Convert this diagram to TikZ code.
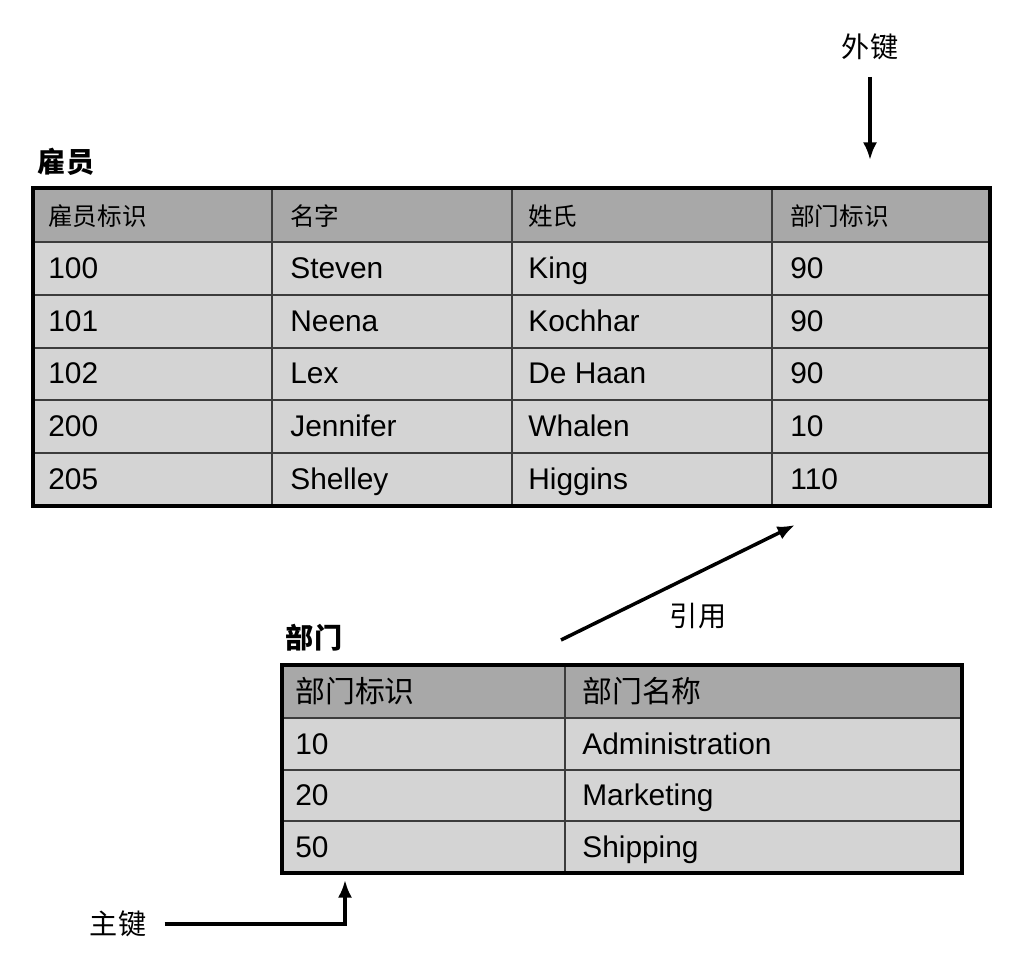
\documentclass[tikz,border=0pt]{standalone}
\usepackage{fontspec}
\setmainfont{Liberation Sans}
\newfontfamily\cjk{Noto Sans CJK SC}
\usetikzlibrary{arrows.meta}
\definecolor{hdrgray}{RGB}{168,168,168}
\definecolor{rowgray}{RGB}{212,212,212}
\definecolor{gridgray}{RGB}{60,60,60}

\begin{document}
\begin{tikzpicture}[x=0.02cm,y=-0.02cm,>={Latex[length=10pt,width=8pt]},
  cell/.style={anchor=west,inner sep=0pt,text height=12pt,text depth=0pt,font=\fontsize{17}{20}\selectfont},
  hcell/.style={cell,font=\cjk\fontsize{14}{17}\selectfont},
  dhcell/.style={cell,font=\cjk\fontsize{17}{20}\selectfont},
  title/.style={font=\cjk\bfseries\fontsize{16}{19}\selectfont},
  lbl/.style={font=\cjk\fontsize{16}{19}\selectfont},
  grid/.style={draw=gridgray,line width=1.1pt},
  frame/.style={draw=black,line width=2.2pt},
  arr/.style={->,line width=2pt}]
\useasboundingbox (0,0) rectangle (1013,962);

% employees table
\node[title] (emp) at (66,162) {雇员};
\fill[hdrgray] (33,188) rectangle (990,242);
\fill[rowgray] (33,242) rectangle (990,506);
\foreach \y in {242,294.8,347.6,400.4,453.2} \draw[grid] (33,\y) -- (990,\y);
\foreach \x in {272,512,772} \draw[grid] (\x,188) -- (\x,506);
\draw[frame] (33,188) rectangle (990,506);
\node[hcell] (eh1) at (48,215) {雇员标识};
\node[hcell] (eh2) at (290,215) {名字};
\node[hcell] (eh3) at (528,215) {姓氏};
\node[hcell] (eh4) at (790,215) {部门标识};
\foreach \eid/\fname/\lname/\did [count=\i] in {100/Steven/King/90,101/Neena/Kochhar/90,
    102/Lex/De Haan/90,200/Jennifer/Whalen/10,205/Shelley/Higgins/110} {
  \pgfmathsetmacro\yy{215+52.8*\i}
  \node[cell] (e\i-1) at (48,\yy) {\eid};
  \node[cell] (e\i-2) at (290,\yy) {\fname};
  \node[cell] (e\i-3) at (528,\yy) {\lname};
  \node[cell] (e\i-4) at (790,\yy) {\did};
}

% departments table
\node[title] (dept) at (314,638) {部门};
\fill[hdrgray] (282,665) rectangle (962,718);
\fill[rowgray] (282,718) rectangle (962,873);
\foreach \y in {718,769.7,821.4} \draw[grid] (282,\y) -- (962,\y);
\draw[grid] (565,665) -- (565,873);
\draw[frame] (282,665) rectangle (962,873);
\node[dhcell] (dh1) at (295,691.5) {部门标识};
\node[dhcell] (dh2) at (582,691.5) {部门名称};
\foreach \did/\dname [count=\i] in {10/Administration,20/Marketing,50/Shipping} {
  \pgfmathsetmacro\yy{692+51.7*\i}
  \node[cell] (d\i-1) at (295,\yy) {\did};
  \node[cell] (d\i-2) at (582,\yy) {\dname};
}

% keys
\node[lbl] (fk) at (870,47) {外键};
\coordinate (fkend) at (870,160);
\draw[arr,shorten <=6pt] (fk.south) -- (fkend);

\coordinate (refa) at (561,640);
\coordinate (refb) at (795,525);
\draw[arr] (refa) -- (refb);
\node[lbl] (ref) at (698,616) {引用};

\node[lbl] (pk) at (118,924) {主键};
\coordinate (pkend) at (345,880);
\draw[arr,shorten <=7pt] (pk.east) -| (pkend);
\end{tikzpicture}
\end{document}
